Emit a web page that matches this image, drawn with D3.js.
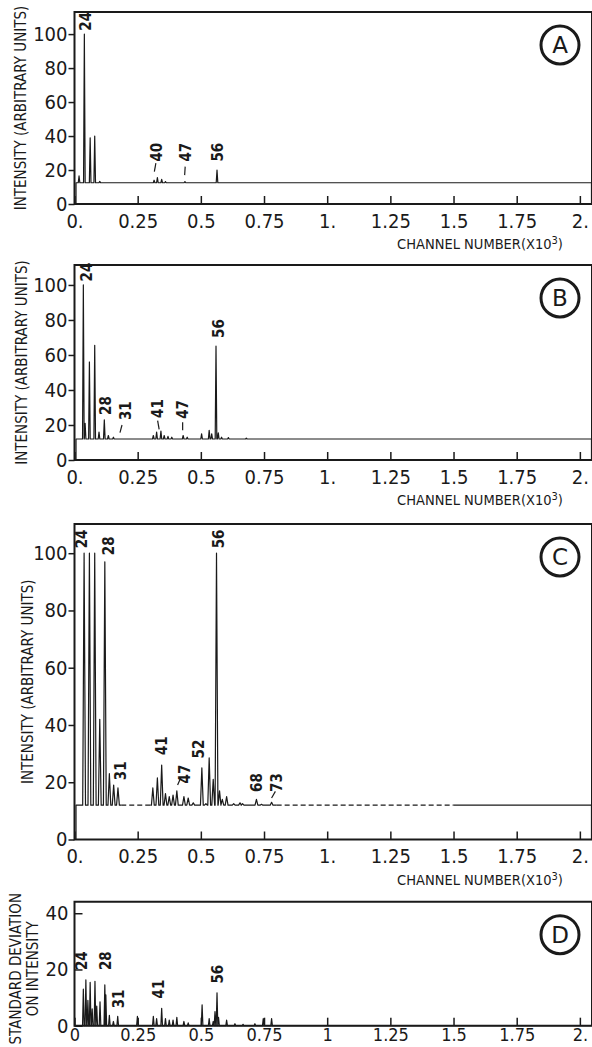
<!DOCTYPE html>
<html>
<head>
<meta charset="utf-8">
<script src="https://cdn.jsdelivr.net/npm/d3@7"></script>
<style>
  body { margin: 0; background: #fff; }
  text { fill: #1a1a1a; font-family: "DejaVu Sans", sans-serif; font-stretch: condensed; }
</style>
</head>
<body>
<div id="chart"></div>
<script>
// channel axis (x 10^3)
const channelTicks = [0, 0.25, 0.5, 0.75, 1, 1.25, 1.5, 1.75, 2];
const channelLabels = ["0.", "0.25", "0.5", "0.75", "1.", "1.25", "1.5", "1.75", "2."];
const channelLabelsD = ["0", "0.25", "0.5", "0.75", "1", "1.25", "1.5", "1.75", "2."];
const intensityTicks = [0, 20, 40, 60, 80, 100];
const sdTicks = [0, 20, 40];

// baseline levels
const baseA = 12.5, baseB = 12, baseC = 12, baseD = 0;

// peaks: [channel (x10^3), intensity]
const peaksA = [[0.018, 16.5], [0.039, 100], [0.062, 39], [0.080, 40], [0.100, 13.3],
  [0.315, 14], [0.328, 15.5], [0.345, 14.5], [0.36, 13.2], [0.437, 13.2], [0.564, 20]];

const peaksB = [[0.035, 100], [0.042, 21], [0.059, 56], [0.080, 65.5], [0.097, 16], [0.118, 23],
  [0.134, 14], [0.154, 13], [0.312, 14], [0.325, 16], [0.342, 16.5], [0.355, 14], [0.37, 13.5],
  [0.385, 13], [0.43, 14], [0.446, 13], [0.503, 15], [0.533, 17], [0.543, 15], [0.56, 65],
  [0.569, 15.5], [0.582, 13], [0.609, 12.8], [0.68, 12.5]];

const peaksC = [[0.038, 100], [0.059, 100], [0.080, 100], [0.100, 42], [0.120, 97], [0.138, 23],
  [0.155, 19], [0.172, 18], [0.31, 18], [0.328, 21.5], [0.345, 26], [0.36, 16], [0.375, 15],
  [0.39, 15.5], [0.405, 17], [0.433, 15], [0.45, 14.5], [0.47, 12.8], [0.504, 25], [0.52, 12.5],
  [0.533, 28.5], [0.549, 21], [0.562, 100], [0.574, 17], [0.585, 14], [0.602, 15], [0.63, 12.5],
  [0.655, 12.8], [0.665, 12.5], [0.72, 14], [0.74, 12.3], [0.78, 13]];
const dashedC = [[0.185, 0.30], [0.80, 1.5]];

const peaksD = [[0.035, 13], [0.045, 16.3], [0.053, 9], [0.062, 15.4], [0.070, 6], [0.081, 15.8],
  [0.088, 7], [0.101, 8.5], [0.120, 14.5], [0.124, 11], [0.138, 3.7], [0.154, 1.5], [0.171, 3.3],
  [0.249, 3.3], [0.312, 3.3], [0.325, 2.5], [0.345, 6.2], [0.36, 2.5], [0.375, 2], [0.39, 2],
  [0.405, 3], [0.433, 1.5], [0.45, 1], [0.505, 7.4], [0.533, 2.5], [0.549, 1.5], [0.556, 5],
  [0.564, 11.7], [0.57, 3], [0.602, 2], [0.635, 0.7], [0.667, 0.5], [0.714, 0.7], [0.747, 2.5], [0.78, 2.5]];

// peak labels: [text, channel, value at label foot]
const labelsA = [["24", 0.044, 102], ["40", 0.325, 25], ["47", 0.44, 25], ["56", 0.565, 25]];
const labelsB = [["24", 0.049, 102], ["28", 0.125, 25.7], ["31", 0.203, 22.8], ["41", 0.329, 24],
  ["47", 0.43, 23.5], ["56", 0.569, 69.7]];
const labelsC = [["24", 0.029, 101.7], ["28", 0.134, 99.3], ["31", 0.184, 20.7], ["41", 0.347, 29.5],
  ["47", 0.437, 19.6], ["52", 0.49, 28.3], ["56", 0.569, 101.7], ["68", 0.72, 16.6], ["73", 0.80, 16.6]];
const labelsD = [["24", 0.03, 19.8], ["28", 0.125, 19.8], ["31", 0.174, 6.2], ["41", 0.334, 9.7], ["56", 0.565, 15]];

// leader strokes: [c1, v1, c2, v2]
const leadersA = [[0.316, 19, 0.322, 24], [0.436, 17, 0.438, 22]];
const leadersB = [[0.180, 15.6, 0.188, 20], [0.335, 17.5, 0.329, 22.5], [0.428, 17, 0.428, 21.5]];
const leadersC = [[0.408, 19, 0.42, 21.5], [0.78, 14.5, 0.795, 16.8]];
const leadersD = [];

const width = 592, height = 1047;
const svg = d3.select("#chart").append("svg")
    .attr("width", width)
    .attr("height", height);

const x = d3.scaleLinear().domain([0, 2.048]).range([74.5, 592]);

const panels = [
  { tag: "A", peaks: peaksA, base: baseA, labels: labelsA, leaders: leadersA, dashed: [],
    top: 12, bottom: 204, yMax: 113, yTicks: intensityTicks, xLabels: channelLabels, hw: 0.8, pad: 10, fs: 20,
    yTitle: ["INTENSITY (ARBITRARY UNITS)"], yTitleX: [21], channelTitle: true },
  { tag: "B", peaks: peaksB, base: baseB, labels: labelsB, leaders: leadersB, dashed: [],
    top: 265, bottom: 460, yMax: 111.4, yTicks: intensityTicks, xLabels: channelLabels, hw: 0.8, pad: 10, fs: 20,
    yTitle: ["INTENSITY (ARBITRARY UNITS)"], yTitleX: [22], channelTitle: true },
  { tag: "C", peaks: peaksC, base: baseC, labels: labelsC, leaders: leadersC, dashed: dashedC,
    top: 524, bottom: 839.5, yMax: 110.2, yTicks: intensityTicks, xLabels: channelLabels, hw: 1.4, pad: 9, fs: 20,
    yTitle: ["INTENSITY (ARBITRARY UNITS)"], yTitleX: [28], channelTitle: true },
  { tag: "D", peaks: peaksD, base: baseD, labels: labelsD, leaders: leadersD, dashed: [],
    top: 901.7, bottom: 1025.7, yMax: 44.1, yTicks: sdTicks, xLabels: channelLabelsD, hw: 0.8, pad: 3, fs: 18,
    yTitle: ["STANDARD DEVIATION", "ON INTENSITY"], yTitleX: [16, 33], channelTitle: false }
];

panels.forEach(p => {
  const y = d3.scaleLinear().domain([0, p.yMax]).range([p.bottom, p.top]);
  const g = svg.append("g");

  // spectrum points
  const pts = [{ c: 0.006, v: 0 }, { c: 0.006, v: p.base }];
  p.peaks.slice().sort((a, b) => a[0] - b[0]).forEach(([c, v]) => {
    pts.push({ c: c, v: p.base, dx: -p.hw });
    pts.push({ c: c, v: v });
    pts.push({ c: c, v: p.base, dx: p.hw });
  });
  p.dashed.forEach(([a, b]) => {
    pts.push({ c: a, v: p.base }, { gap: true, c: a }, { c: b, v: p.base });
  });
  pts.sort((a, b) => a.c - b.c || 0);
  pts.push({ c: 2.046, v: p.base }, { c: 2.046, v: 0 });

  const line = d3.line()
      .defined(d => !d.gap)
      .x(d => x(d.c) + (d.dx || 0))
      .y(d => y(d.v));

  g.append("path")
      .attr("d", line(pts))
      .attr("fill", "none")
      .attr("stroke", "#1a1a1a")
      .attr("stroke-width", 1.2)
      .attr("stroke-linejoin", "round");

  g.selectAll(".dash")
    .data(p.dashed)
    .enter().append("line")
      .attr("x1", d => x(d[0]))
      .attr("x2", d => x(d[1]))
      .attr("y1", y(p.base))
      .attr("y2", y(p.base))
      .attr("stroke", "#1a1a1a")
      .attr("stroke-width", 1.1)
      .attr("stroke-dasharray", "5,3");

  // frame
  g.append("path")
      .attr("d", `M${x(2.048)},${p.top}H${x(0)}V${p.bottom}H${x(2.048)}V${p.top}`)
      .attr("fill", "none")
      .attr("stroke", "#1a1a1a")
      .attr("stroke-width", 2);

  // x axis: ticks point inward
  const xa = g.append("g")
      .attr("transform", `translate(0,${p.bottom})`)
      .call(d3.axisBottom(x).tickValues(channelTicks).tickSize(-8).tickPadding(p.pad)
        .tickFormat((d, i) => p.xLabels[i]));
  xa.select(".domain").remove();
  xa.selectAll("line").attr("stroke", "#1a1a1a").attr("stroke-width", 1.5);
  xa.selectAll("text").attr("font-size", p.fs).attr("fill", "#1a1a1a")
      .style("font-family", "'DejaVu Sans',sans-serif").style("font-stretch", "condensed");

  // y axis
  const ya = g.append("g")
      .attr("transform", `translate(${x(0)},0)`)
      .call(d3.axisLeft(y).tickValues(p.yTicks).tickSize(p.tag === "D" ? -8 : 6).tickPadding(p.tag === "D" ? 6 : 1));
  ya.select(".domain").remove();
  ya.selectAll("line").attr("stroke", "#1a1a1a").attr("stroke-width", 1.5);
  ya.selectAll("text").attr("font-size", 20).attr("fill", "#1a1a1a")
      .style("font-family", "'DejaVu Sans',sans-serif").style("font-stretch", "condensed");

  // peak labels
  g.selectAll(".pk")
    .data(p.labels)
    .enter().append("text")
      .attr("transform", d => `translate(${x(d[1])},${y(d[2])}) rotate(-90)`)
      .attr("dy", "0.35em")
      .attr("font-size", 15)
      .attr("font-weight", "bold")
      .text(d => d[0]);

  g.selectAll(".leader")
    .data(p.leaders)
    .enter().append("line")
      .attr("x1", d => x(d[0]))
      .attr("y1", d => y(d[1]))
      .attr("x2", d => x(d[2]))
      .attr("y2", d => y(d[3]))
      .attr("stroke", "#1a1a1a")
      .attr("stroke-width", 1.2);

  // panel tag
  g.append("circle")
      .attr("cx", 560)
      .attr("cy", p.top + 33)
      .attr("r", 19)
      .attr("fill", "none")
      .attr("stroke", "#1a1a1a")
      .attr("stroke-width", 3);
  g.append("text")
      .attr("x", 560)
      .attr("y", p.top + 33)
      .attr("dy", "0.36em")
      .attr("text-anchor", "middle")
      .attr("font-size", 23)
      .style("font-stretch", "normal")
      .text(p.tag);

  // y title
  const cy = (p.top + p.bottom) / 2 + (p.tag === "D" ? 5 : 0);
  p.yTitle.forEach((t, i) => {
    g.append("text")
        .attr("transform", `translate(${p.yTitleX[i]},${cy}) rotate(-90)`)
        .attr("dy", "0.35em")
        .attr("text-anchor", "middle")
        .attr("font-size", 15)
        .text(t);
  });

  // channel title
  if (p.channelTitle) {
    const t = g.append("text")
        .attr("x", 480)
        .attr("y", p.bottom + 45)
        .attr("text-anchor", "middle")
        .attr("font-size", 14.5)
        .text("CHANNEL NUMBER(X10");
    t.append("tspan").attr("dy", -5).attr("font-size", 11).text("3");
    t.append("tspan").attr("dy", 5).text(")");
  }
});
</script>
</body>
</html>
